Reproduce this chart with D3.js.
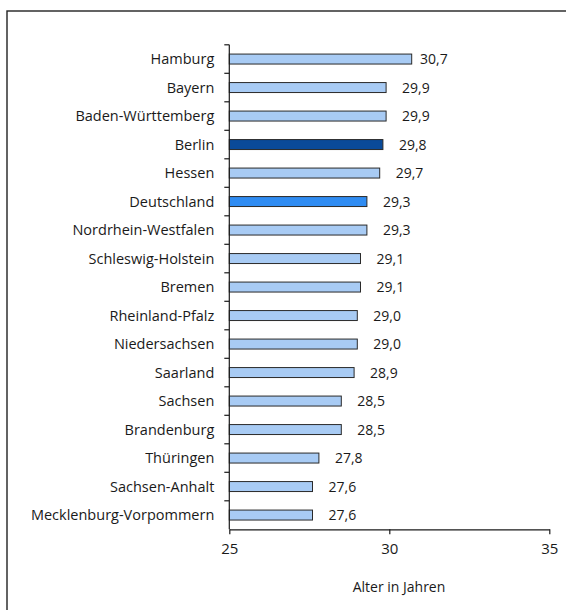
<!DOCTYPE html>
<html>
<head>
<meta charset="utf-8">
<script src="https://cdn.jsdelivr.net/npm/d3@7"></script>
<style>
  html, body { margin: 0; padding: 0; background: #fff; }
  svg { display: block; }
  text { font-family: "Open Sans", "DejaVu Sans", sans-serif; fill: #1a1a1a; }
</style>
</head>
<body>
<svg id="chart" width="566" height="610"></svg>
<script>
// Durchschnittsalter nach Bundesland
const laender = [
  "Hamburg", "Bayern", "Baden-Württemberg", "Berlin", "Hessen", "Deutschland",
  "Nordrhein-Westfalen", "Schleswig-Holstein", "Bremen", "Rheinland-Pfalz",
  "Niedersachsen", "Saarland", "Sachsen", "Brandenburg", "Thüringen",
  "Sachsen-Anhalt", "Mecklenburg-Vorpommern"
];
const alter = [30.7, 29.9, 29.9, 29.8, 29.7, 29.3, 29.3, 29.1, 29.1, 29.0,
               29.0, 28.9, 28.5, 28.5, 27.8, 27.6, 27.6];
const xTicks = [25, 30, 35];
const xDomain = [25, 35];
const xTitle = "Alter in Jahren";

const svg = d3.select("#chart");

// outer frame
svg.append("rect")
  .attr("x", 7).attr("y", 11)
  .attr("width", 600).attr("height", 640)
  .attr("fill", "none").attr("stroke", "#222").attr("stroke-width", 1.4);

const plot = { left: 229.3, right: 549.3, top: 44.8, bottom: 529.3 };

const x = d3.scaleLinear().domain(xDomain).range([plot.left, plot.right]);
const y = d3.scaleBand().domain(laender).range([plot.top, plot.bottom]).paddingInner(0.65).paddingOuter(0.325);

const colorFor = name => name === "Berlin" ? "#0A4A99" : name === "Deutschland" ? "#2F8CF2" : "#A8CBF4";

// bars
svg.append("g").selectAll("rect")
  .data(laender)
  .join("rect")
  .attr("x", x(xDomain[0]))
  .attr("y", d => y(d))
  .attr("width", (d, i) => x(alter[i]) - x(xDomain[0]))
  .attr("height", y.bandwidth())
  .attr("fill", d => colorFor(d))
  .attr("stroke", "#2a2a2a")
  .attr("stroke-width", 1);

// value labels
const fmt = v => v.toFixed(1).replace(".", ",");
svg.append("g").selectAll("text")
  .data(laender)
  .join("text")
  .attr("x", (d, i) => Math.min(x(alter[i]) + 16, 420))
  .attr("y", d => y(d) + y.bandwidth() / 2)
  .attr("dy", "0.36em")
  .attr("font-size", 14)
  .text((d, i) => fmt(alter[i]));

// category axis: line with ticks between categories
const step = y.step();
const gy = svg.append("g");
gy.append("line")
  .attr("x1", plot.left).attr("x2", plot.left)
  .attr("y1", plot.top).attr("y2", plot.bottom)
  .attr("stroke", "#1a1a1a").attr("stroke-width", 1.2);
gy.selectAll("line.tick")
  .data(d3.range(laender.length))
  .join("line")
  .attr("class", "tick")
  .attr("x1", plot.left - 5).attr("x2", plot.left)
  .attr("y1", i => plot.top + i * step)
  .attr("y2", i => plot.top + i * step)
  .attr("stroke", "#1a1a1a").attr("stroke-width", 1.2);
gy.selectAll("text")
  .data(laender)
  .join("text")
  .attr("x", plot.left - 15)
  .attr("y", d => y(d) + y.bandwidth() / 2)
  .attr("dy", "0.36em")
  .attr("text-anchor", "end")
  .attr("font-size", 14.5)
  .text(d => d);

// value axis
const gx = svg.append("g").attr("transform", `translate(0,${plot.bottom})`)
  .call(d3.axisBottom(x).tickValues(xTicks).tickSize(5).tickSizeOuter(0).tickPadding(9).tickFormat(d3.format("d")));
gx.select(".domain").attr("stroke", "#1a1a1a").attr("stroke-width", 1.2);
gx.selectAll(".tick line").attr("stroke", "#1a1a1a").attr("stroke-width", 1.2);
gx.selectAll(".tick text")
  .attr("font-family", "\"Open Sans\", \"DejaVu Sans\", sans-serif")
  .attr("font-size", 15).attr("fill", "#1a1a1a");

svg.append("text")
  .attr("x", 399).attr("y", 592)
  .attr("text-anchor", "middle")
  .attr("font-size", 14)
  .text(xTitle);
</script>
</body>
</html>
